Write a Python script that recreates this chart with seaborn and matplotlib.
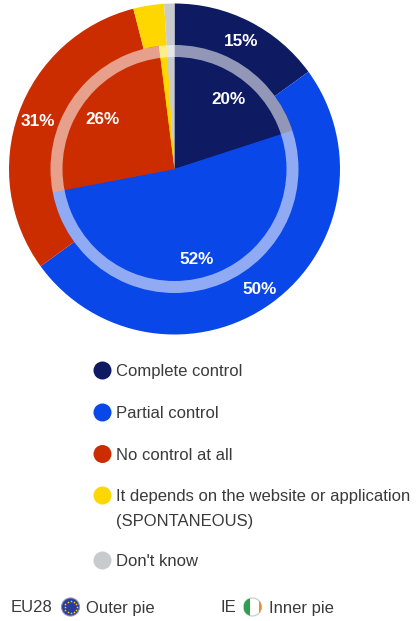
import numpy as np
import matplotlib
matplotlib.use('Agg')
import matplotlib.pyplot as plt
from matplotlib.patches import Circle, Rectangle
import seaborn as sns

categories = ['Complete control', 'Partial control', 'No control at all',
              'It depends on the website or application\n(SPONTANEOUS)', "Don't know"]
outer_values = [15, 50, 31, 3, 1]   # EU28
inner_values = [20, 52, 26, 1, 1]   # IE
colors = ['#0E1B63', '#0A47E8', '#CC2D00', '#FFD700', '#C8CACD']

sns.set_theme(style='white')
plt.rcParams['font.family'] = ['Liberation Sans', 'DejaVu Sans']
text_color = '#3a3a3a'
legend_size = 12.0
value_size = 12.3

W, H = 416, 621
fig = plt.figure(figsize=(W / 100, H / 100), dpi=100, facecolor='white')

# pie axes, placed in pixels
cx, cy, R = 174.5, 169, 165.5
ax = fig.add_axes([(cx - R) / W, 1 - (cy + R) / H, 2 * R / W, 2 * R / H])
ax.pie(outer_values, colors=colors, radius=1, startangle=90, counterclock=False,
       wedgeprops=dict(linewidth=0))
ax.pie(inner_values, colors=colors, radius=124 / R, startangle=90, counterclock=False,
       wedgeprops=dict(linewidth=0))
# pale ring between the two pies
ax.pie([1], colors=['white'], radius=124 / R, startangle=90,
       wedgeprops=dict(width=12 / R, linewidth=0, alpha=0.55))
ax.set_xlim(-1, 1)
ax.set_ylim(-1, 1)
ax.axis('off')

# overlay in pixel coordinates for labels and legend
ov = fig.add_axes([0, 0, 1, 1], facecolor='none')
ov.set_xlim(0, W)
ov.set_ylim(H, 0)
ov.axis('off')

# value labels
outer_pos = [(241, 42), (260, 289), (38, 122)]
inner_pos = [(228, 99), (197, 259), (102, 119)]
for v, (x, y) in zip(outer_values[:3], outer_pos):
    ov.text(x, y, f'{v}%', color='white', fontsize=value_size, fontweight='bold', ha='center', va='center')
for v, (x, y) in zip(inner_values[:3], inner_pos):
    ov.text(x, y, f'{v}%', color='white', fontsize=value_size, fontweight='bold', ha='center', va='center')

# legend
legend_y = [370.5, 412.5, 454, 495.5, 560.5]
for name, col, y in zip(categories, colors, legend_y):
    ov.add_patch(Circle((102.5, y), 9, facecolor=col, edgecolor='none'))
    ov.text(116, y - 6.5, name, color=text_color, fontsize=legend_size, ha='left', va='top', linespacing=1.85)

# bottom row
row_y = 607
ov.text(11, row_y + 1, 'EU28', color=text_color, fontsize=legend_size, ha='left', va='center')
ov.add_patch(Circle((70.5, row_y), 9, facecolor='#2A3A9E', edgecolor='#8a8fb5', linewidth=0.8))
ang = np.deg2rad(np.arange(0, 360, 30))
ov.scatter(70.5 + 6 * np.cos(ang), row_y + 6 * np.sin(ang), marker='*', s=4, color='#FFD700', linewidths=0)
ov.text(86, row_y + 1, 'Outer pie', color=text_color, fontsize=legend_size, ha='left', va='center')

ov.text(220, row_y + 1, 'IE', color=text_color, fontsize=legend_size, ha='left', va='center')
flag = Circle((252.5, row_y), 9, facecolor='white', edgecolor='#c8c8c8', linewidth=0.8)
ov.add_patch(flag)
for x0, col in [(243.5, '#2E9E4F'), (258.5, '#F08A24')]:
    bar = Rectangle((x0, row_y - 9), 6, 18, facecolor=col, edgecolor='none')
    ov.add_patch(bar)
    bar.set_clip_path(flag)
ov.text(269, row_y + 1, 'Inner pie', color=text_color, fontsize=legend_size, ha='left', va='center')

fig.savefig('out.png', dpi=100)
